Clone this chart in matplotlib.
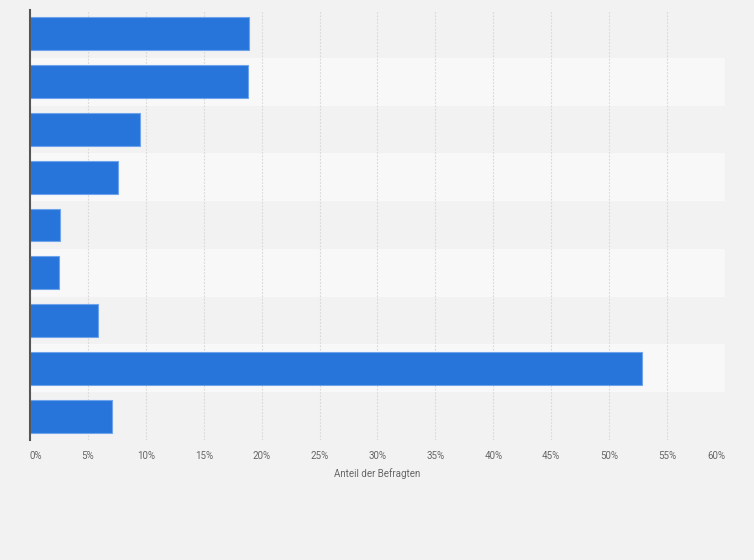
import matplotlib
matplotlib.use("Agg")
import matplotlib.pyplot as plt
import numpy as np

values = [18.9, 18.8, 9.5, 7.6, 2.6, 2.5, 5.9, 52.8, 7.1]
ticks = [0, 5, 10, 15, 20, 25, 30, 35, 40, 45, 50, 55, 60]
tick_labels = [f"{t}%" for t in ticks]
xlabel = "Anteil der Befragten"

plt.rcParams['font.family'] = ['Roboto', 'DejaVu Sans']

fig = plt.figure(figsize=(7.54, 5.6), dpi=100)
fig.patch.set_facecolor('#f2f2f2')
ax = fig.add_axes([30/754, 120/560, 695/754, 430/560])
ax.set_facecolor('#f2f2f2')

n = len(values)
y = np.arange(n)
for i in range(n):
    if i % 2 == 1:
        ax.axhspan(i - 0.5, i + 0.5, color='#f8f8f8', zorder=0, lw=0)

ax.barh(y, values, height=0.69, color='#2775db', edgecolor='#6fa3ea', linewidth=0.8, zorder=3)

ax.set_xlim(0, 60)
ax.set_ylim(n - 0.5, -0.5)
ax.set_xticks(ticks)
ax.set_xticklabels(tick_labels)
ax.set_yticks([])
ax.tick_params(axis='x', length=0, pad=8, labelsize=7, labelcolor='#666666')
labels = ax.get_xticklabels()
labels[0].set_horizontalalignment('left')
labels[-1].set_horizontalalignment('right')
ax.grid(axis='x', color='#d8d8d8', linestyle=(0, (1.5, 1.5)), linewidth=0.8, zorder=1)
for s in ['top', 'right', 'bottom']:
    ax.spines[s].set_visible(False)
ax.spines['left'].set_color('#555555')
ax.spines['left'].set_linewidth(1.5)
ax.spines['left'].set_zorder(4)
ax.set_xlabel(xlabel, fontsize=7, color='#666666', labelpad=5)

fig.savefig('out.png', dpi=100, facecolor=fig.get_facecolor())
